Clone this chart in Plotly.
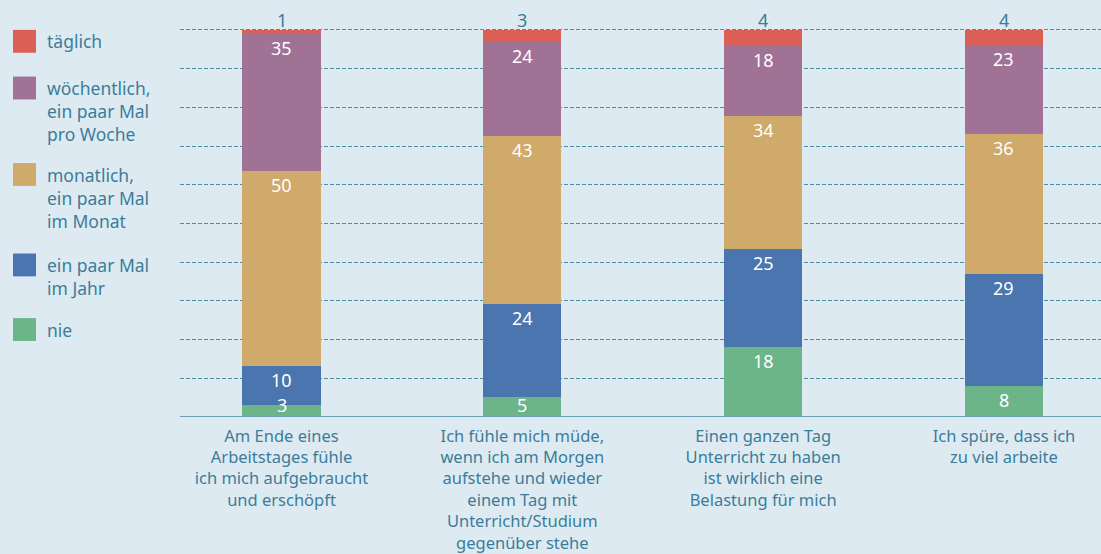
import plotly.graph_objects as go

categories = [
    "Am Ende eines<br>Arbeitstages fühle<br>ich mich aufgebraucht<br>und erschöpft",
    "Ich fühle mich müde,<br>wenn ich am Morgen<br>aufstehe und wieder<br>einem Tag mit<br>Unterricht/Studium<br>gegenüber stehe",
    "Einen ganzen Tag<br>Unterricht zu haben<br>ist wirklich eine<br>Belastung für mich",
    "Ich spüre, dass ich<br>zu viel arbeite",
]
series_names = ["nie", "ein paar Mal im Jahr", "monatlich, ein paar Mal im Monat",
                "wöchentlich, ein paar Mal pro Woche", "täglich"]
legend_labels = ["nie", "ein paar Mal<br>im Jahr", "monatlich,<br>ein paar Mal<br>im Monat",
                 "wöchentlich,<br>ein paar Mal<br>pro Woche", "täglich"]
nie = [3, 5, 18, 8]
jahr = [10, 24, 25, 29]
monat = [50, 43, 34, 36]
woche = [35, 24, 18, 23]
taeglich = [1, 3, 4, 4]
series_values = [nie, jahr, monat, woche, taeglich]
colors = ["#6cb588", "#4a75ae", "#cfaa6b", "#a07295", "#dc5f56"]

BG = "#deeaf2"
TEXT = "#3b7d99"
FONT = "Noto Sans"

W, H = 1101, 554
YMAX = 100.5
L, R, T, B = 180, 0, 27.6, 135.0
PW, PH = W - L - R, H - T - B

fig = go.Figure()
for name, vals, col in zip(series_names, series_values, colors):
    fig.add_trace(go.Bar(
        x=list(range(len(categories))), y=vals, name=name,
        marker=dict(color=col, line=dict(width=0)),
        hoverinfo="y+name", showlegend=False,
    ))

annotations = []
# data labels, positions derived from normalized stacked values
for i in range(len(categories)):
    total = sum(s[i] for s in series_values)
    cum = 0
    for k, s in enumerate(series_values):
        pct = s[i] / total * 100
        cum += pct
        if k == len(series_values) - 1:
            annotations.append(dict(x=i, y=cum, xref="x", yref="y", text=str(s[i]),
                                    showarrow=False, yanchor="bottom", yshift=-3, borderpad=0,
                                    font=dict(family=FONT, size=18, color=TEXT)))
        elif k == 0 and pct < 7:
            annotations.append(dict(x=i, y=0, xref="x", yref="y", text=str(s[i]),
                                    showarrow=False, yanchor="bottom", yshift=-1, borderpad=0,
                                    font=dict(family=FONT, size=18, color="white")))
        else:
            annotations.append(dict(x=i, y=cum, xref="x", yref="y", text=str(s[i]),
                                    showarrow=False, yanchor="top", yshift=-1, borderpad=0,
                                    font=dict(family=FONT, size=18, color="white")))

# custom legend (left side)
def px_x(p):
    return (p - L) / PW

def px_y(p):
    return (H - B - p) / PH

legend_centers = [331, 266, 175, 88, 41]
shapes = []
for lab, col, cy in zip(legend_labels, colors, legend_centers):
    shapes.append(dict(type="rect", xref="paper", yref="paper",
                       x0=px_x(13), x1=px_x(36), y0=px_y(cy + 11.5), y1=px_y(cy - 11.5),
                       fillcolor=col, line=dict(width=0), layer="above"))
    annotations.append(dict(x=px_x(45), y=px_y(cy - 14), xref="paper", yref="paper",
                            xanchor="left", yanchor="top", align="left", text=lab,
                            showarrow=False,
                            font=dict(family=FONT, size=17.5, color=TEXT)))

fig.update_layout(
    width=W, height=H,
    barmode="stack", barnorm="percent", bargap=0.676,
    paper_bgcolor=BG, plot_bgcolor=BG,
    margin=dict(l=L, r=R, t=T, b=B),
    showlegend=False,
    font=dict(family=FONT, color=TEXT, size=16),
    xaxis=dict(range=[-0.4215, 3.403], tickmode="array",
               tickvals=list(range(len(categories))), ticktext=categories,
               showgrid=False, zeroline=False, showline=False, ticks="",
               tickfont=dict(family=FONT, size=16.5, color=TEXT), ticklabelstandoff=7),
    yaxis=dict(range=[0, YMAX], tickvals=list(range(10, 101, 10)), showticklabels=False,
               showgrid=True, gridcolor="#4d8fa8", gridwidth=1, griddash="4px,2px",
               zeroline=False, showline=False, ticks=""),
    annotations=annotations,
    shapes=shapes + [dict(type="line", xref="paper", yref="y", x0=0, x1=1, y0=0, y1=0,
                          line=dict(color="#6b9fb2", width=2), layer="above")],
)

fig.write_html("out.html", config={"displayModeBar": False},
               post_script="document.body.style.margin='0';document.body.style.background='" + BG + "';")
